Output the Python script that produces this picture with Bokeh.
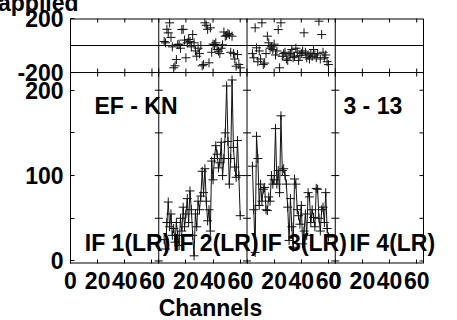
import math
from bokeh.plotting import figure
from bokeh.models import Range1d, LinearAxis, FixedTicker, Label
from bokeh.embed import file_html
from bokeh.resources import INLINE

# ---------------- data ----------------
panel_width = 65                      # channel span per IF panel
if_labels = ["IF 1(LR)", "IF 2(LR)", "IF 3(LR)", "IF 4(LR)"]
baseline_label = "EF - KN"
time_label = "3 - 13"
x_axis_title = "Channels"
top_note = "applied"
x_tick_vals = [0, 20, 40, 60]
amp_ticks = [0, 50, 100, 150, 200]
amp_tick_labels = ["0", "", "100", "", "200"]
phase_ticks = [-200, 200]

channels = list(range(4, 61))

# IF 2 (panel index 1)
amp_if2 = [25, 14, 45, 69, 40, 55, 30, 38, 22, 45, 30, 18, 50, 35, 63, 40, 55,
           73, 45, 82, 60, 30, 6, 55, 40, 70, 60, 76, 105, 80, 108, 70, 47, 60,
           35, 117, 95, 120, 135, 125, 109, 115, 139, 100, 120, 150, 205, 140,
           90, 120, 212, 133, 110, 98, 141, 100, 53]
phase_if2 = [30, 20, 120, 94, 168, 60, -10, -165, -150, -104, 7, 10, -20, 118,
             120, 40, -91, 20, 44, 30, -10, 81, 20, -40, -79, -20, -60, 0, -150,
             -141, 168, 150, 120, -128, 131, -50, 10, 7, 20, -30, -42, -60, -20,
             5, 100, 69, 75, 90, 80, -50, 69, -60, -100, -153, -67, -140, -165]

# IF 3 (panel index 2)
amp_if3 = [111, 60, 10, 146, 120, 65, 90, 70, 84, 86, 60, 59, 75, 70, 100, 90,
           95, 155, 90, 106, 80, 170, 106, 108, 100, 90, 63, 24, 73, 40, 16, 96,
           90, 60, 53, 43, 65, 20, 35, 55, 30, 80, 75, 45, 60, 51, 40, 85, 84,
           50, 35, 60, 63, 45, 80, 38, 28]
phase_if3 = [-60, -91, 131, -17, -120, -40, -100, 168, -141, -130, -60, 69, 20,
             -20, -10, -30, 10, -70, -40, 118, -165, 168, -80, -60, -50, -100,
             -110, -70, -60, -30, -90, -80, -20, -50, -110, -75, -60, -40, 94,
             -50, -90, -70, -100, -60, -80, -30, -70, -90, -60, 180, -100, 81,
             -50, -90, -70, -120, -141]

series = [(1, amp_if2, phase_if2), (2, amp_if3, phase_if3)]

# ---------------- layout constants ----------------
FONT = "Liberation Sans"
FS = "23px"
AMP_LO, AMP_HI = -3, 284
B = 220.7                               # boundary between phase and amplitude boxes
PH_LO = -200 - (B - AMP_LO) * 400 / (AMP_HI - B)
n_panels = len(if_labels)
X_HI = panel_width * n_panels           # right edge of the drawn box
SHIFT_TOP = 16                          # canvas starts this far above the page
W = 449
BL, BR, BT, BB = 70, 8, 18 + SHIFT_TOP, 66
FH = 245
H = BT + FH + BB
BOX_W = 353                             # width of the drawn box in pixels
FW = W - BL - BR
PXU = BOX_W / X_HI                      # pixels per channel unit
X_VIEW = FW / PXU

p = figure(width=W, height=H, x_range=Range1d(0, X_VIEW),
           y_range=Range1d(AMP_LO, AMP_HI), output_backend="svg",
           toolbar_location=None, x_axis_type=None, y_axis_type=None,
           min_border_left=BL, min_border_right=BR, min_border_top=BT,
           min_border_bottom=BB, title=top_note)
p.margin = (-SHIFT_TOP, 0, -(H - SHIFT_TOP - 320), 0)
p.extra_y_ranges = {"phase": Range1d(PH_LO, 200)}
p.outline_line_color = None
p.background_fill_color = "white"
p.border_fill_color = "white"

# "applied" sits at the very top, partly above the visible page
p.title.align = "left"
p.title.vertical_align = "top"
p.title.standoff = 2
p.title.offset = -72.5
p.title.text_font = FONT
p.title.text_font_size = FS
p.title.text_font_style = "bold"
p.title.text_color = "black"

def style_axis(ax):
    ax.axis_line_color = "black"
    ax.major_tick_line_color = "black"
    ax.major_tick_in = 4
    ax.major_tick_out = 0
    ax.minor_tick_line_color = None
    ax.major_label_text_font = FONT
    ax.major_label_text_font_style = "bold"
    ax.major_label_text_color = "black"
    ax.major_label_text_font_size = FS
    ax.major_label_standoff = 7

# x ticks for all panels
xt = [panel_width * k + t for k in range(n_panels) for t in x_tick_vals]
xt_over = {panel_width * k + t: str(t) for k in range(n_panels) for t in x_tick_vals}

bottom = LinearAxis(ticker=FixedTicker(ticks=xt, minor_ticks=[]),
                    major_label_overrides=xt_over)
style_axis(bottom)
bottom.axis_line_color = None
bottom.major_label_standoff = 8
p.add_layout(bottom, "below")

# "Channels" title drawn as the single label of a second, line-less bottom axis
CH_X = 103.1
title_axis = LinearAxis(ticker=FixedTicker(ticks=[CH_X], minor_ticks=[]),
                        major_label_overrides={CH_X: x_axis_title})
style_axis(title_axis)
title_axis.axis_line_color = None
title_axis.major_tick_line_color = None
title_axis.major_tick_in = 0
title_axis.major_label_standoff = 3
p.add_layout(title_axis, "below")

left_over = {t: l for t, l in zip(amp_ticks, amp_tick_labels)}
left_over[B] = str(phase_ticks[0])
left_over[AMP_HI] = str(phase_ticks[1])
left = LinearAxis(ticker=FixedTicker(ticks=amp_ticks + [B, AMP_HI], minor_ticks=[]),
                  major_label_overrides=left_over)
style_axis(left)
p.add_layout(left, "left")

# box: top/bottom edges (half clipped at frame edge), right edge, separators,
# phase/amp boundary and phase zero line
ZERO = (B + AMP_HI) / 2
p.segment(x0=[0, 0], y0=[AMP_HI, AMP_LO], x1=[X_HI, X_HI], y1=[AMP_HI, AMP_LO],
          line_color="black", line_width=2)
p.segment(x0=[0, 0], y0=[B, ZERO], x1=[X_HI, X_HI], y1=[B, ZERO],
          line_color="black", line_width=1)
vx = [panel_width * k for k in range(1, n_panels + 1)]
p.segment(x0=vx, y0=[AMP_LO] * len(vx), x1=vx, y1=[AMP_HI] * len(vx),
          line_color="black", line_width=1)

# inward / crossing tick marks
sep_x = [panel_width * k for k in range(1, n_panels) for _ in amp_ticks]
sep_y = [t for k in range(1, n_panels) for t in amp_ticks]
p.scatter(sep_x, sep_y, marker="dash", size=8, line_color="black", line_width=1)
tick_len = 4 / PXU
p.segment(x0=[X_HI - tick_len] * len(amp_ticks), y0=amp_ticks,
          x1=[X_HI] * len(amp_ticks), y1=amp_ticks, line_color="black", line_width=1)
p.scatter(xt, [B] * len(xt), marker="dash", angle=math.pi / 2, size=8,
          line_color="black", line_width=1)
p.scatter(xt, [AMP_HI] * len(xt), marker="dash", angle=math.pi / 2, size=8,
          line_color="black", line_width=1)

# data
for k, amp, ph in series:
    xs = [panel_width * k + c for c in channels]
    p.line(xs, amp, line_color="#111111", line_width=1)
    p.scatter(xs, amp, marker="cross", size=9, line_color="#111111", line_width=1)
    p.scatter(xs, ph, marker="cross", size=9, line_color="#111111", line_width=1,
              y_range_name="phase")

def lab(x, y, text, align="left"):
    p.add_layout(Label(x=x, y=y, text=text, text_font=FONT, text_font_size=FS,
                       text_font_style="bold", text_color="black",
                       text_baseline="alphabetic", text_align=align))

lab(17.7, 182, baseline_label)
lab(201, 182, time_label)
for k, t in enumerate(if_labels):
    lab(panel_width * k + 10.5, 21.6, t)

open("out.html", "w").write(file_html(p, INLINE))
